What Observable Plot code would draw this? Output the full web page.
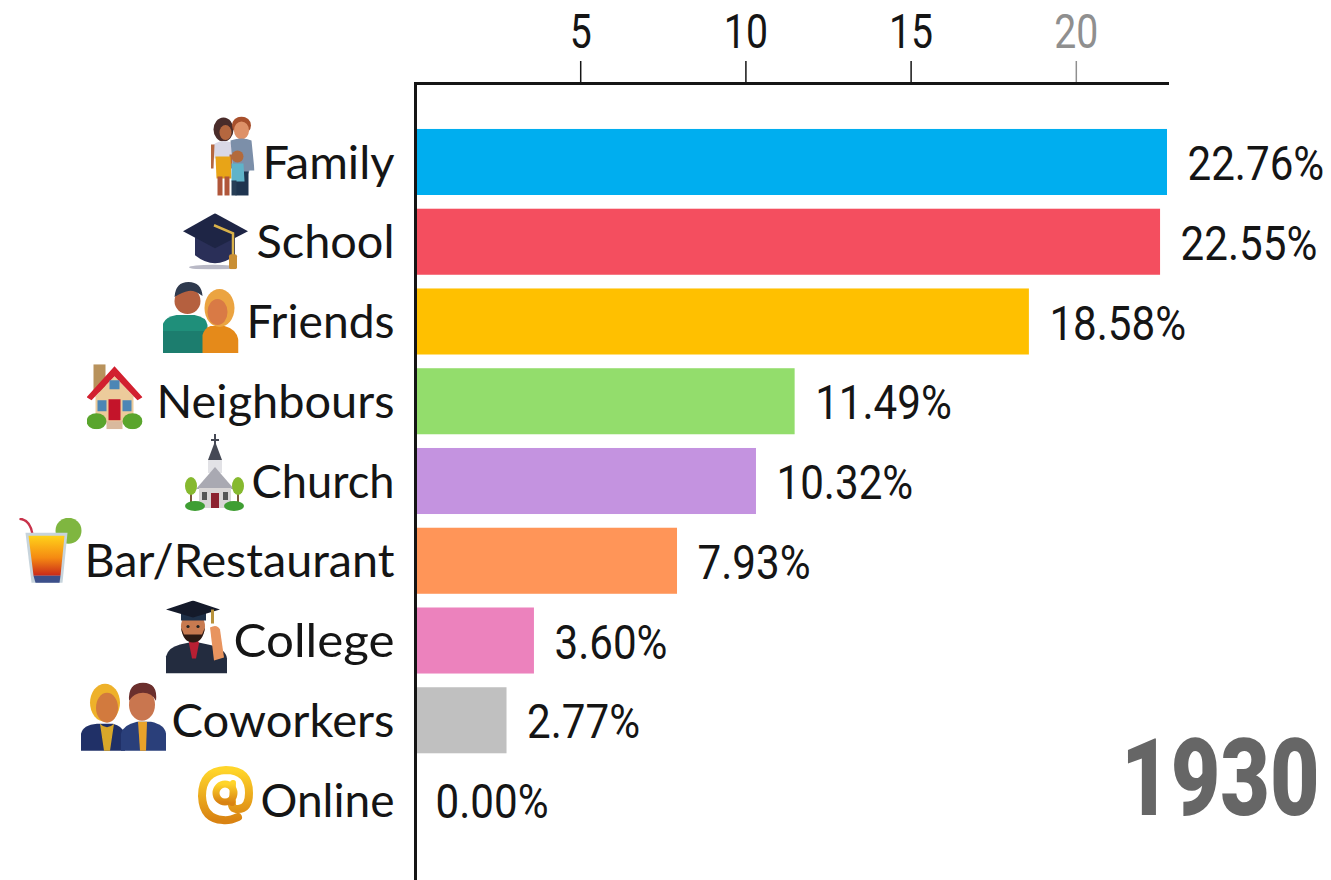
<!DOCTYPE html>
<html>
<head>
<meta charset="utf-8">
<style>
html,body{margin:0;padding:0;background:#fff;}
svg{display:block;}
</style>
<script src="https://cdn.jsdelivr.net/npm/d3@7"></script>
<script src="https://cdn.jsdelivr.net/npm/@observablehq/plot@0.6"></script>
</head>
<body>
<div id="chart"></div>
<script>
const categories = ["Family","School","Friends","Neighbours","Church","Bar/Restaurant","College","Coworkers","Online"];
const shares = [22.76,22.55,18.58,11.49,10.32,7.93,3.60,2.77,0.00];
const barColors = ["#00AEEF","#F44E5F","#FFC000","#93DD6C","#C493E0","#FF9558","#EC82BD","#C0C0C0","#BBBBBB"];
const xTicks = [5,10,15];
const fadingTicks = [20];
const yearLabel = ["1930"];

// Small pictures placed beside the category labels.
const iconArt = [
`<ellipse cx="13" cy="13" rx="10" ry="12" fill="#4a2c2a"/><ellipse cx="15" cy="16" rx="6" ry="7.5" fill="#b5673f"/><path d="M3 28q8-6 18-2l2 16H4z" fill="#d9d8e6"/><path d="M0 28h4l-1 24H0zM19 38h3v14h-3z" fill="#b5673f"/><path d="M5 40h15l1 22H6z" fill="#e8a417"/><rect x="7" y="60" width="5" height="19" fill="#b0563a"/><rect x="14" y="60" width="5" height="19" fill="#b0563a"/><ellipse cx="31" cy="9" rx="9.5" ry="9" fill="#a8502c"/><ellipse cx="31" cy="14" rx="7.5" ry="9" fill="#de9168"/><path d="M20 24q12-4 21 0l3 30h-5l-1 3H23z" fill="#7c8fa9"/><rect x="25" y="55" width="13" height="24" fill="#1f3550"/><circle cx="27" cy="40" r="6" fill="#b36a3c"/><path d="M21 47h12l1 18H21z" fill="#5fb3c9"/><rect x="21" y="64" width="5" height="15" fill="#273e57"/>`,
`<ellipse cx="30" cy="54" rx="24" ry="2.5" fill="#b9b9c6"/><path d="M12 24v18q20 16 40 0V24z" fill="#2a2f58"/><path d="M0 18 32 0l33 18-33 17z" fill="#1e2545"/><path d="M31 12l19 8v28" stroke="#d9b24a" stroke-width="2.5" fill="none"/><rect x="46" y="41" width="8" height="15" rx="2" fill="#c98f35"/>`,
`<path d="M0 72V44q2-8 14-10h18q12 2 13 10v28z" fill="#1f8f7a"/><path d="M0 72V50l45 0v22z" fill="#18695f" opacity=".45"/><circle cx="25" cy="20" r="13" fill="#b5603f"/><path d="M12 16q1-15 14-15t14 14q-8-6-14-5t-14 6z" fill="#2f3a4e"/><path d="M40 72V54q2-7 8-9h14q12 3 14 14v13z" fill="#e58a1a"/><ellipse cx="57" cy="27" rx="15" ry="19" fill="#eba441"/><ellipse cx="55" cy="31" rx="10" ry="13" fill="#d97a45"/>`,
`<rect x="7" y="0" width="12" height="28" fill="#b8925c"/><path d="M9 32 28 12l19 20v27H9z" fill="#eccb9b"/><path d="M0 33 28 2l28 31-5 3L28 12 5 36z" fill="#d2202f"/><rect x="23" y="16" width="10" height="9" fill="#4c86b5"/><rect x="11" y="36" width="9" height="11" fill="#4c86b5"/><rect x="36" y="36" width="9" height="11" fill="#4c86b5"/><rect x="22" y="35" width="12" height="21" fill="#c4142a"/><ellipse cx="10" cy="57" rx="10" ry="8" fill="#5aa52d"/><ellipse cx="46" cy="57" rx="10" ry="8" fill="#5aa52d"/><rect x="20" y="57" width="16" height="8" fill="#d9b99d"/>`,
`<path d="M30 0h2v5h3v2h-3v3l6 16H24l6-16V7h-3V5h3z" fill="#454955"/><rect x="24" y="26" width="14" height="13" fill="#e2e2e6"/><path d="M31 33 50 55H12z" fill="#a9a9b2"/><rect x="15" y="54" width="32" height="20" fill="#d9d6d6"/><rect x="27" y="59" width="8" height="15" fill="#8c2330"/><rect x="18" y="58" width="5" height="8" fill="#555"/><rect x="39" y="58" width="5" height="8" fill="#555"/><rect x="6" y="58" width="2" height="12" fill="#7a5a3a"/><rect x="53" y="58" width="2" height="12" fill="#7a5a3a"/><ellipse cx="7" cy="52" rx="6" ry="9" fill="#86b92f"/><ellipse cx="54" cy="52" rx="6" ry="9" fill="#86b92f"/><ellipse cx="11" cy="72" rx="10" ry="5" fill="#3f9e33"/><ellipse cx="50" cy="72" rx="10" ry="5" fill="#3f9e33"/>`,
`<defs><linearGradient id="d" x1="0" y1="0" x2="0" y2="1"><stop offset="0" stop-color="#ffd21a"/><stop offset=".55" stop-color="#f58a12"/><stop offset="1" stop-color="#c9281a"/></linearGradient></defs><circle cx="50" cy="13" r="13" fill="#7fb640"/><path d="M1 1q11 1 13 16" stroke="#c8324a" stroke-width="2.5" fill="none"/><path d="M7 15h42l-5 50H13z" fill="#c7d4dc"/><path d="M10 18h36l-4 40H15z" fill="url(#d)"/><path d="M15 58h27l-1 7H17z" fill="#3c4f8a"/>`,
`<path d="M1 73V56q2-9 14-12l14-3 14 3q18 4 19 14v15z" fill="#232c3f"/><path d="M24 40h9l1 3-3 15h-4l-3-15z" fill="#b81f33"/><ellipse cx="28" cy="26" rx="12" ry="14" fill="#c87a50"/><path d="M16 27q2 15 12 15t12-15l-3 7H19z" fill="#2c1a14"/><circle cx="23" cy="26" r="1.6" fill="#222"/><circle cx="33" cy="26" r="1.6" fill="#222"/><path d="M16 12h25v8H16z" fill="#1e3048"/><path d="M1 9 28 0l27 9-27 8z" fill="#141a2a"/><rect x="46" y="9" width="3" height="14" fill="#b8923b"/><path d="M45 27q7-4 10 2l4 28-10 3z" fill="#e8945f"/>`,
`<path d="M5 69V52q2-9 16-10h16q9 2 12 10v17z" fill="#203067"/><ellipse cx="29" cy="21" rx="15" ry="19" fill="#eeb12a"/><ellipse cx="31" cy="26" rx="11" ry="15" fill="#d27a3e"/><path d="M24 42q7 7 14 0l-4 27h-6z" fill="#d8a72a"/><path d="M45 69V52q2-9 16-12h14q14 3 15 12v17z" fill="#2a3f7a"/><ellipse cx="66" cy="23" rx="13" ry="16" fill="#c9764f"/><path d="M53 19q-1-18 14-18t13 18q-4-8-13-8t-14 8z" fill="#6b2f2d"/><path d="M62 40h9l-1 29h-6z" fill="#e8a22a"/>`,
`<defs><linearGradient id="g" x1="0" y1="0" x2="0" y2="1"><stop offset="0" stop-color="#ffd52a"/><stop offset="1" stop-color="#d98312"/></linearGradient></defs><path d="M41 52q-9 4-15 3Q6 54 5 31 5 6 29 5q23 0 23 23 0 16-11 16-7 0-6-7" fill="none" stroke="url(#g)" stroke-width="8" stroke-linecap="round"/><circle cx="28" cy="28" r="9" fill="none" stroke="url(#g)" stroke-width="7"/><path d="M36 18l-1 20" stroke="url(#g)" stroke-width="6" stroke-linecap="round"/>`
];
// Box of each picture: width, height and the shift of its centre from the bar origin and the band centre.
const iconWidths  = [44,65,76,56,61,64,63,91,57];
const iconHeights = [80,56,72,65,77,67,73,70,61];
const iconShiftX  = [-183,-200,-215,-301,-201,-365,-219,-294,-190];
const iconShiftY  = [-6,-1,-5,-5,-9,-10,-4,-4,-5];
// Widths of the label inks, used to fit a stand-in for the original typeface.
const labelWidths = [132,138,148,238,143,310,161,223,134];

const rows = categories.map((name,i)=>({name,share:shares[i]}));
const svgUri = (art,w,h)=>"data:image/svg+xml;utf8,"+encodeURIComponent(`<svg xmlns="http://www.w3.org/2000/svg" viewBox="0 0 ${w} ${h}">${art}</svg>`);
const labelFont = "Lato, 'Open Sans', sans-serif";
const numberFont = "Roboto, 'Open Sans', sans-serif";
const ink = "#151515";

const iconMarks = categories.map((name,i)=>Plot.image([name],{
  x:()=>0, y:d=>d,
  src:()=>svgUri(iconArt[i],iconWidths[i],iconHeights[i]),
  width:iconWidths[i], height:iconHeights[i],
  dx:iconShiftX[i], dy:iconShiftY[i]
}));

const chart = Plot.plot({
  width:1331, height:880,
  marginLeft:415, marginRight:164, marginTop:83, marginBottom:0,
  style:{background:"#fff", overflow:"visible"},
  x:{domain:[0,22.76], axis:null},
  y:{domain:categories, range:[122.1,839.9], paddingInner:.172, paddingOuter:.086, round:false, axis:null},
  color:{domain:categories, range:barColors},
  marks:[
    Plot.barX(rows,{x:"share",y:"name",fill:"name"}),
    Plot.axisX(xTicks,{anchor:"top",tickSize:23,tickPadding:13,fontSize:49,fontFamily:numberFont,fontWeight:400,color:ink,strokeWidth:1.5,label:null,className:"ticknum"}),
    Plot.axisX(fadingTicks,{anchor:"top",tickSize:23,tickPadding:13,fontSize:49,fontFamily:numberFont,fontWeight:400,color:"#8f8f8f",strokeWidth:1.5,label:null,className:"ticknum"}),
    Plot.ruleX([0],{stroke:ink,strokeWidth:3}),
    Plot.frame({anchor:"top",stroke:ink,strokeWidth:3}),
    Plot.text(rows,{x:()=>0,y:"name",text:"name",textAnchor:"end",dx:-21,dy:1,fontSize:47,fontFamily:labelFont,fill:ink,className:"catlabel"}),
    ...iconMarks,
    Plot.text(rows,{x:"share",y:"name",text:d=>d3.format(".2f")(d.share)+"%",textAnchor:"start",dx:20,dy:2,fontSize:49,fontFamily:numberFont,fill:ink,className:"valnum"}),
    Plot.text(yearLabel,{frameAnchor:"bottom-right",text:d=>d,dx:152,dy:-66,fontSize:107,fontWeight:900,fontFamily:numberFont,fill:"#666666",textAnchor:"end",className:"yearnum"})
  ]
});
document.getElementById("chart").appendChild(chart);

// The original typeface is narrower than any installed one: condense the real text to fit.
const fit = (sel,k)=>chart.querySelectorAll(sel).forEach(t=>{
  t.setAttribute("textLength",t.getComputedTextLength()*k);
  t.setAttribute("lengthAdjust","spacingAndGlyphs");
});
fit(".ticknum text",.8);
fit(".valnum text",.86);
fit(".yearnum text",.8);
chart.querySelectorAll(".catlabel text").forEach((t,i)=>{
  t.setAttribute("textLength",labelWidths[i]);
  t.setAttribute("lengthAdjust","spacingAndGlyphs");
});
</script>
</body>
</html>
